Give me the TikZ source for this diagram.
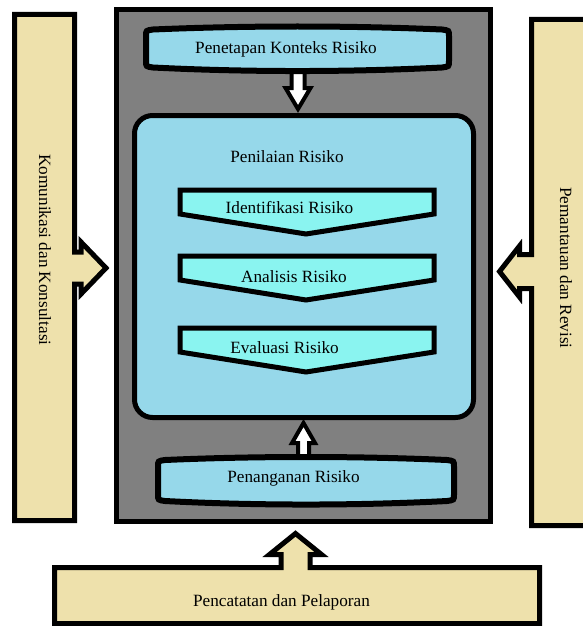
\documentclass[tikz,border=0pt]{standalone}
\usepackage{fontspec}
\setmainfont{Liberation Serif}
\usepackage{tikz}
\usetikzlibrary{calc}
\definecolor{krem}{RGB}{238,225,172}
\definecolor{biru}{RGB}{150,216,234}
\definecolor{toska}{RGB}{138,244,240}
\definecolor{abu}{RGB}{128,128,128}

% bentuk kapsul: #1 opsi, #2 kiri, #3 kanan, #4 atas, #5 bawah
\newcommand{\kapsul}[5]{%
  \draw[#1] (#2,#4+6.5) -- (#2,#5-6.5) .. controls (#2,#5-1) .. (#2+7,#5)
    .. controls ({#2+0.33*(#3-#2)},#5+4.7) and ({#3-0.33*(#3-#2)},#5+4.7) .. (#3-7,#5)
    .. controls (#3,#5-1) .. (#3,#5-6.5) -- (#3,#4+6.5)
    .. controls (#3,#4+1) .. (#3-7,#4)
    .. controls ({#3-0.33*(#3-#2)},#4-4) and ({#2+0.33*(#3-#2)},#4-4) .. (#2+7,#4)
    .. controls (#2,#4+1) .. (#2,#4+6.5) -- cycle;}

\begin{document}
\begin{tikzpicture}[x=1pt, y=-1pt, line join=miter,
    kotak/.style={draw=black, line width=5pt},
    panah/.style={draw=black, fill=white, line width=4pt},
    teks/.style={font=\fontsize{17.2}{20}\selectfont, text=black, inner sep=0pt}]
    \useasboundingbox (0,0) rectangle (583,626);

    % bingkai tengah
    \draw[kotak, line width=5.5pt, fill=abu] (116.5,9.5) rectangle (490.5,521.5);

    % kotak samping dan bawah
    \draw[kotak, fill=krem] (14.5,14.5) -- (74.5,14.5) -- (74.5,252) -- (81,252) -- (81,242)
        -- (106,268) -- (81,294) -- (81,284) -- (74.5,284) -- (74.5,520.5) -- (14.5,520.5) -- cycle;
    \draw[kotak, fill=krem] (590,19.5) -- (531.5,19.5) -- (531.5,254.5) -- (519.5,254.5) -- (519.5,246)
        -- (499.5,271.5) -- (519.5,297) -- (519.5,288.5) -- (531.5,288.5) -- (531.5,525.5) -- (590,525.5);
    \draw[kotak, fill=krem] (54.5,567.5) -- (281,567.5) -- (281,554.5) -- (269.5,554.5) -- (295.5,533.5)
        -- (321.5,554.5) -- (310,554.5) -- (310,567.5) -- (539.5,567.5) -- (539.5,623.5) -- (54.5,623.5) -- cycle;
    \node[teks, rotate=-90] (komunikasi) at (45,250) {Komunikasi dan Konsultasi};
    \node[teks, rotate=-90] (pemantauan) at (566,268) {Pemantauan dan Revisi};
    \node[teks] (pencatatan) at (281.5,602) {Pencatatan dan Pelaporan};

    % penilaian risiko
    \node[kotak, fill=biru, rounded corners=18pt, minimum width=339pt, minimum height=302pt,
        inner sep=0pt] (nilai) at (304,266.5) {};
    \node[teks] (nilaiteks) at (287,157) {Penilaian Risiko};

    % panah putih
    \coordinate (ujungA) at ([xshift=-6pt, yshift=4pt]nilai.north);
    \coordinate (ujungB) at ([xshift=-0.5pt, yshift=-3pt]nilai.south);
    \draw[panah] (ujungA) -- ++(12.5,-21) -- ++(-6,0) -- ++(0,-19) -- ++(-13,0) -- ++(0,19) -- ++(-6,0) -- cycle;
    \draw[panah] (ujungB) -- ++(11.5,20) -- ++(-6,0) -- ++(0,17) -- ++(-11,0) -- ++(0,-17) -- ++(-6,0) -- cycle;

    \kapsul{kotak, line width=6pt, fill=biru}{146}{449}{29.5}{67.5}
    \node[teks] (tetap) at (286,49) {Penetapan Konteks Risiko};
    \kapsul{kotak, line width=6pt, fill=biru}{158}{454}{460}{501}
    \node[teks] (tangan) at (293.5,478) {Penanganan Risiko};

    % tahap di dalam penilaian
    \foreach \y/\nama/\isi/\tx/\ty in {190/iden/Identifikasi Risiko/289.5/208,
        256/anal/Analisis Risiko/294/277, 328/eval/Evaluasi Risiko/284.5/348} {
        \draw[kotak, fill=toska] (180,\y) -- (434,\y) -- (434,\y+24) -- (306,\y+44) -- (180,\y+24) -- cycle;
        \node[teks] (\nama) at (\tx,\ty) {\isi};
    }
\end{tikzpicture}
\end{document}
